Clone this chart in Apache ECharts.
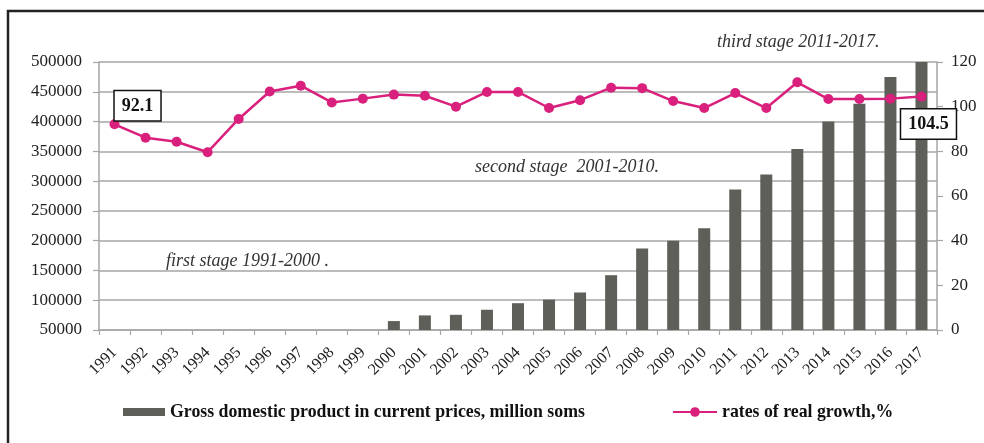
<!DOCTYPE html>
<html>
<head>
<meta charset="utf-8">
<style>
  html, body { margin: 0; padding: 0; background: #ffffff; }
  #chart { width: 984px; height: 443px; }
</style>
<script src="https://cdn.jsdelivr.net/npm/echarts@6/dist/echarts.min.js"></script>
</head>
<body>
<div id="chart"></div>
<script>
// Kyrgyz economy 1991-2017: nominal GDP (bars) and real growth index (line)
const years = ['1991','1992','1993','1994','1995','1996','1997','1998','1999','2000',
  '2001','2002','2003','2004','2005','2006','2007','2008','2009','2010',
  '2011','2012','2013','2014','2015','2016','2017'];

// Gross domestic product in current prices, million soms (not shown below 50000)
const gdpValues = [null, null, null, null, null, null, null, null, null, 65000,
  74500, 75500, 84000, 95000, 101000, 113000, 142000, 187000, 200000, 221000,
  286000, 311000, 354000, 400000, 430000, 475000, 500000];

// Rates of real growth, % (previous year = 100)
const growthValues = [92.1, 86.1, 84.3, 79.6, 94.5, 106.8, 109.4, 101.9, 103.6, 105.4,
  104.9, 100.0, 106.6, 106.6, 99.4, 102.9, 108.5, 108.3, 102.5, 99.4,
  106.1, 99.4, 110.9, 103.4, 103.4, 103.6, 104.5];

const gdpName = 'Gross domestic product in current prices, million soms';
const growthName = 'rates of real growth,%';

const stageNotes = ['first stage 1991-2000 .', 'second stage  2001-2010.', 'third stage 2011-2017.'];

const SERIF = '"Liberation Serif", "DejaVu Serif", serif';
const GRID_GREY = '#a6a6a6';
const BAR_COLOR = '#5e5f58';
const LINE_COLOR = '#d9207c';

const boxLabel = {
  show: true,
  formatter: p => p.value.toFixed(1),
  fontFamily: SERIF,
  fontWeight: 'bold',
  fontSize: 18,
  color: '#111',
  backgroundColor: '#ffffff',
  borderColor: '#111',
  borderWidth: 1.5,
  padding: [6, 7, 5, 7]
};

const growthData = growthValues.map((v, i) => {
  if (i === 0) {
    return { value: v, label: Object.assign({}, boxLabel, { position: 'top', distance: 0, offset: [23, 1] }) };
  }
  if (i === growthValues.length - 1) {
    return { value: v, label: Object.assign({}, boxLabel, { position: 'bottom', distance: 8, offset: [7, 0] }) };
  }
  return v;
});

const legendText = { fontFamily: SERIF, fontWeight: 'bold', fontSize: 17.8, color: '#111' };
const noteFont = 'italic 18px ' + SERIF;

const chart = echarts.init(document.getElementById('chart'), null, { renderer: 'canvas' });

chart.setOption({
  backgroundColor: '#ffffff',
  animation: false,
  textStyle: { fontFamily: SERIF },
  grid: { left: 99, right: 47, top: 62, bottom: 113 },
  legend: [
    {
      data: [gdpName],
      left: 123, top: 403, padding: 0,
      itemWidth: 42, itemHeight: 8,
      icon: 'rect',
      textStyle: legendText
    },
    {
      data: [growthName],
      left: 672, top: 403, padding: 0,
      itemWidth: 44, itemHeight: 12,
      textStyle: legendText
    }
  ],
  xAxis: {
    type: 'category',
    data: years,
    boundaryGap: true,
    axisLine: { lineStyle: { color: GRID_GREY, width: 1.5 } },
    axisTick: { show: true, length: 5, lineStyle: { color: GRID_GREY, width: 1.2 } },
    axisLabel: {
      rotate: 45, margin: 20, interval: 0,
      fontFamily: SERIF, fontSize: 16, color: '#222'
    },
    splitLine: { show: false }
  },
  yAxis: [
    {
      type: 'value',
      min: 50000, max: 500000, interval: 50000,
      axisLine: { show: true, lineStyle: { color: GRID_GREY, width: 1.5 } },
      axisTick: { show: true, length: 6, lineStyle: { color: GRID_GREY, width: 1.2 } },
      axisLabel: {
        margin: 17, fontFamily: SERIF, fontSize: 17, color: '#222',
        formatter: v => String(v)
      },
      splitLine: { show: true, lineStyle: { color: GRID_GREY, width: 1.5 } }
    },
    {
      type: 'value',
      position: 'right',
      min: 0, max: 120, interval: 20,
      axisLine: { show: true, lineStyle: { color: GRID_GREY, width: 1.5 } },
      axisTick: { show: true, length: 6, lineStyle: { color: GRID_GREY, width: 1.2 } },
      axisLabel: { margin: 14, fontFamily: SERIF, fontSize: 17, color: '#222' },
      splitLine: { show: false }
    }
  ],
  series: [
    {
      name: gdpName,
      type: 'bar',
      yAxisIndex: 0,
      data: gdpValues,
      barWidth: 12,
      itemStyle: { color: BAR_COLOR },
      z: 2
    },
    {
      name: growthName,
      type: 'line',
      yAxisIndex: 1,
      data: growthData,
      symbol: 'circle',
      symbolSize: 10,
      lineStyle: { color: LINE_COLOR, width: 2.5 },
      itemStyle: { color: LINE_COLOR },
      z: 5
    }
  ],
  graphic: [
    {
      type: 'rect',
      shape: { x: 8, y: 11, width: 1200, height: 700 },
      style: { fill: null, stroke: '#222', lineWidth: 2.5 },
      silent: true
    },
    {
      type: 'text', left: 166, top: 252,
      style: { text: stageNotes[0], font: noteFont, fill: '#333' }
    },
    {
      type: 'text', left: 475, top: 158,
      style: { text: stageNotes[1], font: noteFont, fill: '#333' }
    },
    {
      type: 'text', left: 717, top: 33,
      style: { text: stageNotes[2], font: noteFont, fill: '#333' }
    }
  ]
});
</script>
</body>
</html>
